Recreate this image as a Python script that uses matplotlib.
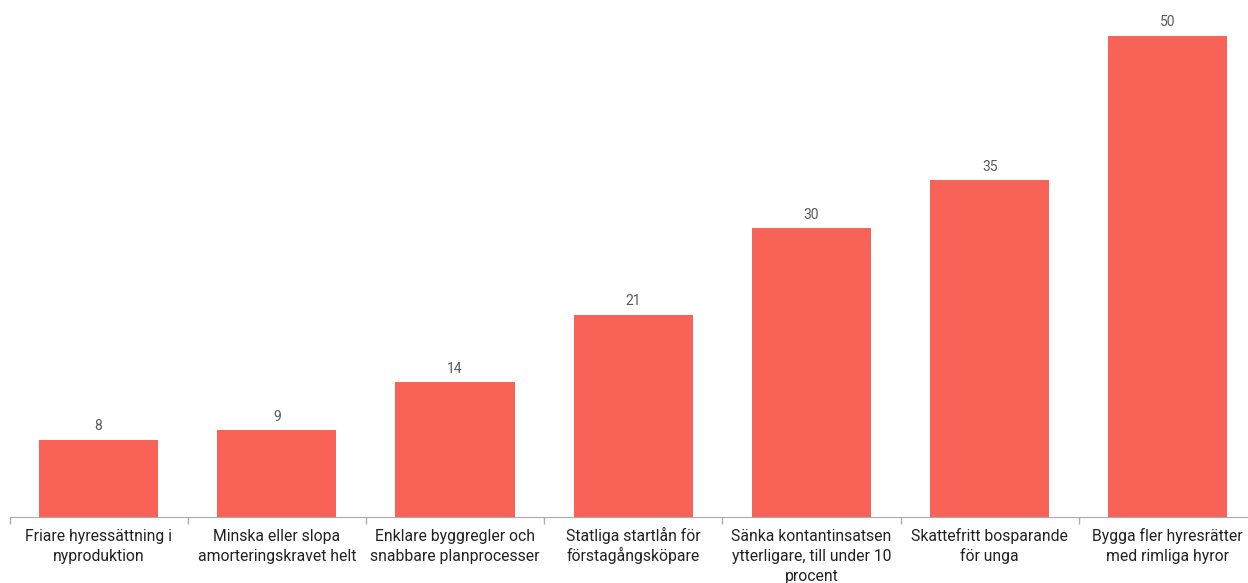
import numpy as np
import matplotlib
matplotlib.use("Agg")
import matplotlib.pyplot as plt
import matplotlib.transforms as mtransforms

labels = ["Friare hyressättning i\nnyproduktion",
          "Minska eller slopa\namorteringskravet helt",
          "Enklare byggregler och\nsnabbare planprocesser",
          "Statliga startlån för\nförstagångsköpare",
          "Sänka kontantinsatsen\nytterligare, till under 10\nprocent",
          "Skattefritt bosparande\nför unga",
          "Bygga fler hyresrätter\nmed rimliga hyror"]
values = [8, 9, 14, 21, 30, 35, 50]

BAR = "#f96257"
plt.rcParams["font.family"] = ["Roboto", "DejaVu Sans"]

fig = plt.figure(figsize=(12.48, 5.83), dpi=100)
# axis runs a little past the right edge of the canvas, as in the source
ax = fig.add_axes([9.5 / 1248, 66 / 583, 1247.4 / 1248, 517 / 583])
x = np.arange(len(values))
ax.bar(x, values, width=0.668, color=BAR)
for xi, v in zip(x, values):
    ax.text(xi, v + 0.7, str(v), ha="center", va="bottom", fontsize=10, color="#5a5a5a")

ax.set_xlim(-0.5, len(values) - 0.5)
ax.set_ylim(0, 53.74)
ax.set_yticks([])
ax.set_xticks(np.arange(-0.5, len(values), 1.0))
ax.set_xticklabels([])
ax.tick_params(axis="x", which="major", length=5, color="#aaaaaa", width=1)

# category labels line by line on fixed baselines (keeps "å" from shifting a label)
for xi, lab in zip(x, labels):
    for i, line in enumerate(lab.split("\n")):
        tr = mtransforms.offset_copy(ax.get_xaxis_transform(), fig=fig, x=0,
                                     y=-24 - 20 * i, units="dots")
        ax.text(xi, 0, line, transform=tr, ha="center", va="baseline",
                fontsize=11.3, color="#222222")

for s in ("top", "right", "left"):
    ax.spines[s].set_visible(False)
ax.spines["bottom"].set_color("#aaaaaa")

fig.savefig("out.png", dpi=100)
